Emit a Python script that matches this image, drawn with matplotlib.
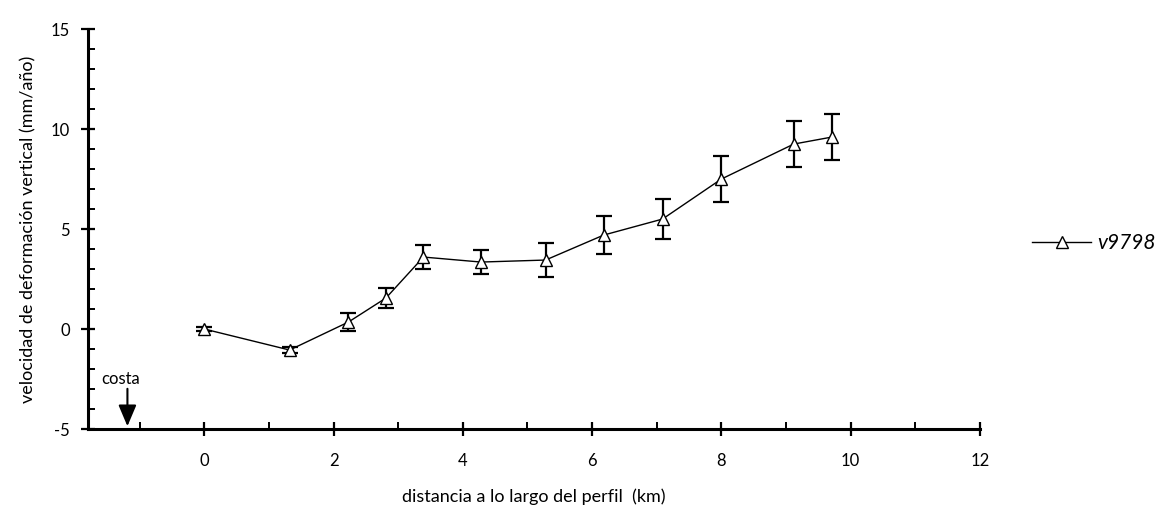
import matplotlib.pyplot as plt
from matplotlib.ticker import MultipleLocator

# datos del perfil v9798
dist_km = [0.0, 1.32, 2.23, 2.81, 3.39, 4.28, 5.28, 6.18, 7.09, 8.0, 9.12, 9.71]
vel = [0.0, -1.05, 0.35, 1.55, 3.6, 3.35, 3.45, 4.7, 5.5, 7.5, 9.25, 9.6]
err = [0.1, 0.15, 0.45, 0.5, 0.6, 0.6, 0.85, 0.95, 1.0, 1.15, 1.15, 1.15]
serie = "v9798"
costa_x = -1.19

plt.rcParams['font.family'] = ['Lato', 'DejaVu Sans']
plt.rcParams['axes.unicode_minus'] = False

fig = plt.figure(figsize=(11.75, 5.29), dpi=100)
ax = fig.add_axes([0.0749, 0.189, 0.759, 0.756])

ax.errorbar(dist_km, vel, yerr=err, fmt="none", ecolor="black",
            elinewidth=1.6, capsize=6, capthick=1.6)
ax.plot(dist_km, vel, color="black", lw=1.0, marker="^", markersize=9,
        markerfacecolor="white", markeredgecolor="black", label=serie)

ax.set_xlim(-1.8, 12)
ax.set_ylim(-5, 15)
ax.spines["top"].set_visible(False)
ax.spines["right"].set_visible(False)
ax.spines["left"].set_linewidth(2.2)
ax.spines["bottom"].set_linewidth(2.2)

ax.set_xticks([0, 2, 4, 6, 8, 10, 12])
ax.xaxis.set_minor_locator(MultipleLocator(1))
ax.yaxis.set_major_locator(MultipleLocator(5))
ax.yaxis.set_minor_locator(MultipleLocator(1))
ax.tick_params(which="major", direction="inout", length=10, width=1.6, labelsize=12)
ax.tick_params(which="minor", direction="in", length=5, width=1.4)
ax.tick_params(axis="x", pad=12)
ax.tick_params(axis="y", pad=8)

ax.set_xlabel("distancia a lo largo del perfil  (km)", fontsize=13, labelpad=14)
ax.set_ylabel("velocidad de deformación vertical (mm/año)", fontsize=13, labelpad=10)

# flecha de la costa
ax.annotate("", xy=(costa_x, -5), xytext=(costa_x, -2.85),
            arrowprops=dict(arrowstyle="-|>,head_length=1.3,head_width=0.55",
                            color="black", lw=1.5))
ax.text(costa_x - 0.1, -2.5, "costa", fontsize=12, ha="center", va="center")

ax.legend(loc="center left", bbox_to_anchor=(1.038, 0.465), frameon=False,
          prop={"style": "italic", "size": 15}, handlelength=2.8, handletextpad=0.3)

fig.savefig("out.png", dpi=100)
